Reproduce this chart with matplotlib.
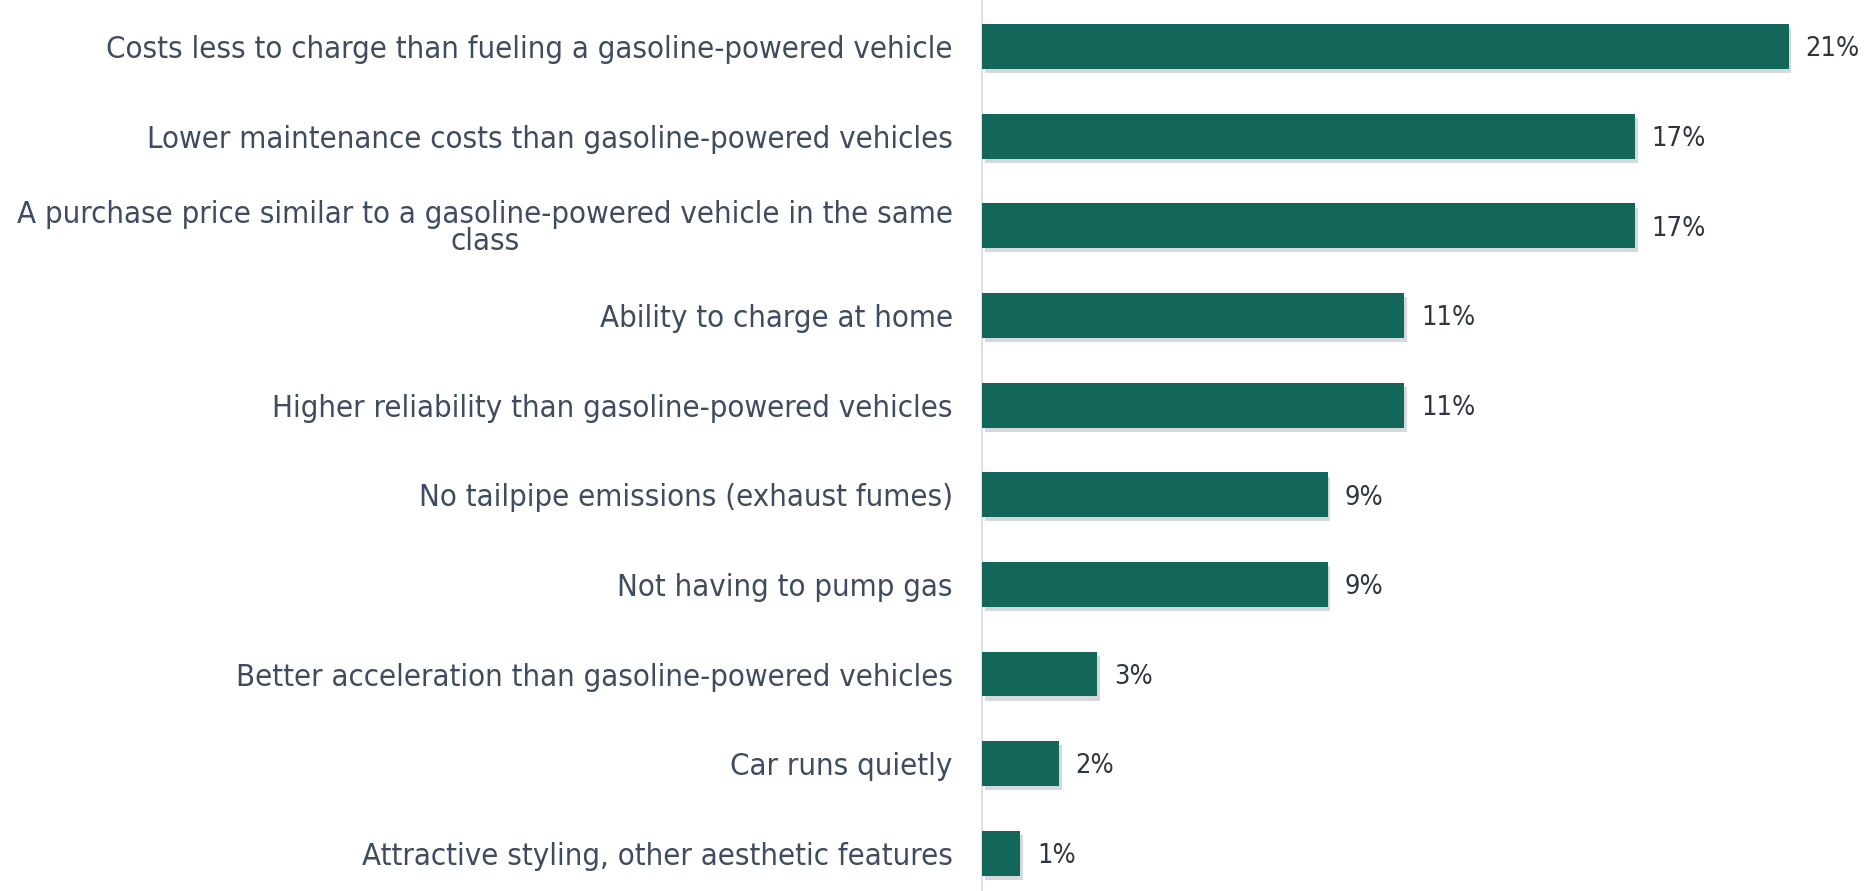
import matplotlib
matplotlib.use("Agg")
import matplotlib.pyplot as plt
import matplotlib.patheffects as pe

categories = [
    "Costs less to charge than fueling a gasoline-powered vehicle",
    "Lower maintenance costs than gasoline-powered vehicles",
    "A purchase price similar to a gasoline-powered vehicle in the same\nclass",
    "Ability to charge at home",
    "Higher reliability than gasoline-powered vehicles",
    "No tailpipe emissions (exhaust fumes)",
    "Not having to pump gas",
    "Better acceleration than gasoline-powered vehicles",
    "Car runs quietly",
    "Attractive styling, other aesthetic features",
]
values = [21, 17, 17, 11, 11, 9, 9, 3, 2, 1]

BAR_COLOR = "#12675a"
LABEL_COLOR = "#3e4b60"
VALUE_COLOR = "#2e3440"

fig = plt.figure(figsize=(18.73, 8.91), dpi=100)
ax = fig.add_axes([0.5243, 0.0, 0.4757, 1.0])

y = list(range(len(categories)))
bars = ax.barh(y, values, height=0.5, color=BAR_COLOR, zorder=3)
for b in bars:
    b.set_path_effects([
        pe.SimplePatchShadow(offset=(2, -3), shadow_rgbFace="#9aa0a6", alpha=0.4),
        pe.Normal(),
    ])

ax.set_ylim(len(categories) - 0.58, -0.52)
ax.set_xlim(0, 23.2)

ax.set_yticks(y)
ax.set_yticklabels(categories, fontsize=22.3, color=LABEL_COLOR,
                   fontstretch="condensed", multialignment="center",
                   linespacing=0.93)
ax.tick_params(axis="y", length=0, pad=21)
ax.set_xticks([])

for s in ["top", "right", "bottom"]:
    ax.spines[s].set_visible(False)
ax.spines["left"].set_color("#dde1e6")
ax.spines["left"].set_linewidth(1.5)

for yi, v in zip(y, values):
    ax.annotate(f"{v}%", xy=(v, yi), xytext=(12, -2), textcoords="offset points",
                va="center", ha="left", fontsize=19.5, color=VALUE_COLOR,
                fontstretch="condensed")

fig.savefig("out.png", dpi=100, facecolor="white")
